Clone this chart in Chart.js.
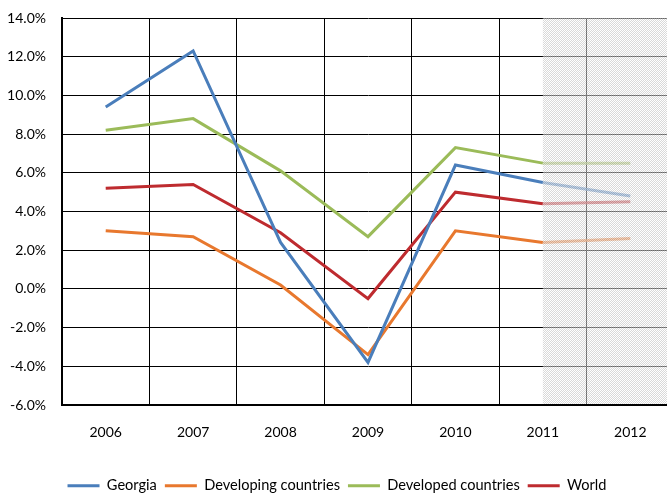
<!DOCTYPE html>
<html>
<head>
<meta charset="utf-8">
<script src="https://cdn.jsdelivr.net/npm/chart.js@4.4.1/dist/chart.umd.min.js"></script>
<style>
  html, body { margin: 0; padding: 0; background: #fff; overflow: hidden; }
  #wrap { width: 674px; height: 495px; position: relative; }
</style>
</head>
<body>
<div id="wrap"><canvas id="grafico"></canvas></div>
<script>
// --- Datos (en %) ----------------------------------------------------------
const anios = ['2006', '2007', '2008', '2009', '2010', '2011', '2012'];
const georgia = [9.4, 12.3, 2.4, -3.8, 6.4, 5.5, 4.8];
const enDesarrollo = [3.0, 2.7, 0.2, -3.4, 3.0, 2.4, 2.6];
const desarrollados = [8.2, 8.8, 6.1, 2.7, 7.3, 6.5, 6.5];
const mundo = [5.2, 5.4, 2.9, -0.5, 5.0, 4.4, 4.5];
const inicioPronostico = '2011'; // zona sombreada desde aquí
const yMin = -6, yMax = 14, yPaso = 2;

const FUENTE = 'Lato, "Open Sans", sans-serif';

// Tramo de pronóstico: línea algo más apagada
function tramo(color) {
  const idx = anios.indexOf(inicioPronostico);
  return {
    borderColor: (c) => (c.p0DataIndex >= idx ? color + 'cc' : undefined),
  };
}

function serie(label, data, color) {
  return {
    label, data,
    borderColor: color, backgroundColor: color,
    borderWidth: 3, pointRadius: 0, tension: 0,
    segment: tramo(color),
  };
}

// Textura punteada gris para la zona de pronóstico
function tesela() {
  const t = document.createElement('canvas');
  t.width = 4; t.height = 4;
  const g = t.getContext('2d');
  for (let i = 0; i < 4; i++) {
    for (let j = 0; j < 4; j++) {
      g.fillStyle = (i + j) % 2 === 0 ? 'rgba(255,255,255,0.55)' : 'rgba(185,185,185,0.55)';
      g.fillRect(i, j, 1, 1);
    }
  }
  return t;
}

const sombreado = {
  id: 'sombreado',
  afterDatasetsDraw(chart) {
    const { ctx, chartArea: a, scales: { x } } = chart;
    const x0 = x.getPixelForValue(anios.indexOf(inicioPronostico));
    ctx.save();
    ctx.fillStyle = ctx.createPattern(tesela(), 'repeat');
    ctx.fillRect(x0, a.top, a.right - x0, a.bottom - a.top - 1);
    ctx.restore();
  },
};

new Chart(document.getElementById('grafico'), {
  type: 'line',
  data: {
    labels: anios,
    datasets: [
      serie('Georgia', georgia, '#4A7EBB'),
      serie('Developing countries', enDesarrollo, '#E8782E'),
      serie('Developed countries', desarrollados, '#9BBB59'),
      serie('World', mundo, '#BE2B2F'),
    ],
  },
  options: {
    responsive: true, maintainAspectRatio: false, animation: false,
    layout: { padding: { top: 18, left: 0, right: 0, bottom: -8 } },
    plugins: {
      tooltip: { enabled: false },
      legend: {
        position: 'bottom',
        labels: {
          boxWidth: 32, boxHeight: 3, padding: 8, color: '#000',
          font: { family: FUENTE, size: 14.6 },
          generateLabels: (chart) =>
            Chart.defaults.plugins.legend.labels.generateLabels(chart).map((l) => ({ ...l, lineWidth: 0 })),
        },
      },
    },
    scales: {
      x: {
        offset: true,
        grid: { offset: true, color: '#000', lineWidth: 1, drawTicks: false },
        border: { color: '#000', width: 2 },
        ticks: { color: '#000', padding: 19, font: { family: FUENTE, size: 14 } },
        afterFit: (s) => { s.height = 65.4; },
      },
      y: {
        min: yMin, max: yMax,
        grid: { color: '#000', lineWidth: 1, drawTicks: false },
        border: { color: '#000', width: 2 },
        ticks: {
          stepSize: yPaso, color: '#000', padding: 16,
          font: { family: FUENTE, size: 14 },
          callback: (v) => v.toFixed(1) + '%',
        },
        // ancho fijo y sin relleno extra arriba/abajo (lo fija el layout)
        afterFit: (s) => { s.width = 62; s.paddingTop = 0; s.paddingBottom = 0; },
      },
    },
  },
  plugins: [sombreado],
});
</script>
</body>
</html>
